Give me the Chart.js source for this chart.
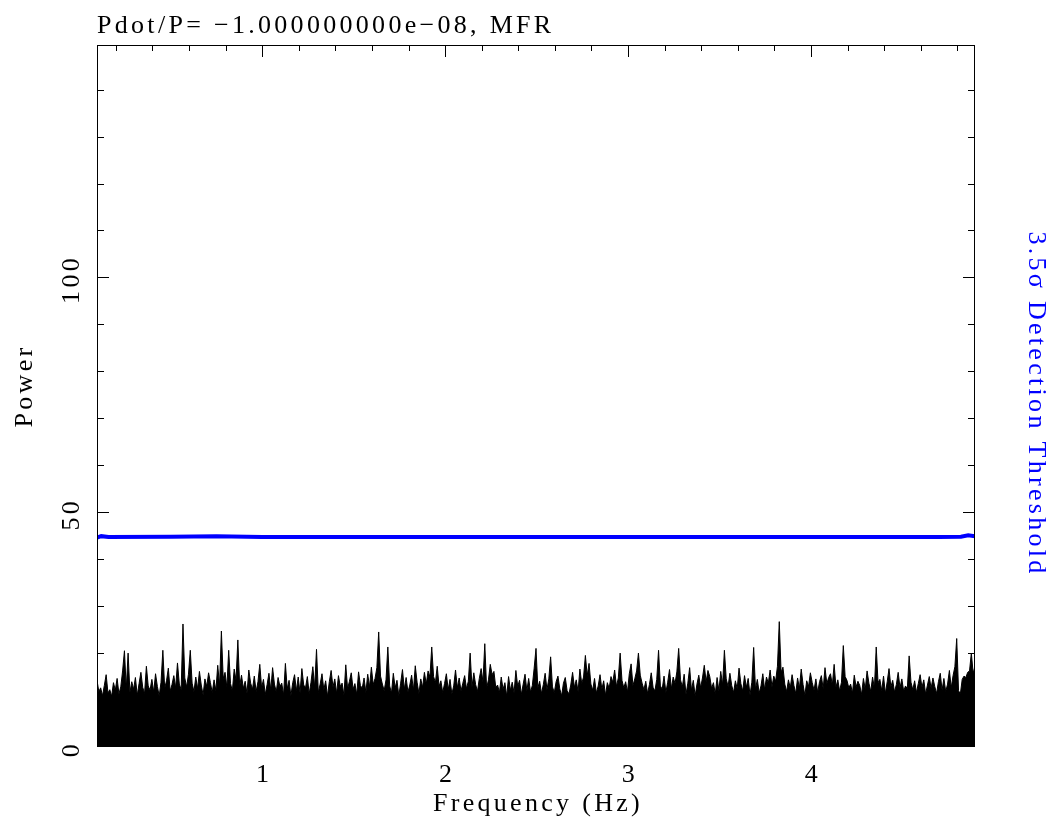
<!DOCTYPE html>
<html>
<head>
<meta charset="utf-8">
<title>Pdot/P power spectrum</title>
<script src="https://cdn.jsdelivr.net/npm/chart.js@4.4.1/dist/chart.umd.min.js"></script>
<style>
    html, body { margin: 0; padding: 0; background: #ffffff; }
    canvas { display: block; }
</style>
</head>
<body>
<canvas id="graficoEspectro" width="1051" height="819"></canvas>
<script>
// frequency grid of the spectrum (Hz)
const freqStart = 0.097;
const freqStep = 0.01;

// power per frequency bin
const power = [
    14.2, 11.8, 12.6, 10.9, 13.1, 15.4, 11.5, 12.2, 10.8, 13.7, 12.1, 14.6, 11.3, 12.8, 16.2, 20.5, 12.4, 20.0, 11.6, 13.9,
    12.3, 14.8, 11.0, 13.5, 15.9, 12.7, 11.4, 17.2, 13.0, 12.1, 14.4, 11.7, 15.6, 12.9, 10.9, 13.8, 20.6, 12.5, 14.1, 16.8,
    11.9, 13.3, 15.2, 12.6, 17.9, 13.4, 12.2, 26.2, 14.7, 12.8, 15.5, 20.6, 13.6, 11.8, 14.9, 12.4, 16.1, 13.2, 11.1, 14.5,
    12.9, 15.8, 13.7, 11.6, 14.3, 12.0, 17.4, 13.1, 24.7, 14.6, 15.9, 12.7, 20.6, 13.5, 11.9, 16.6, 14.2, 22.8, 13.0, 15.3,
    12.5, 14.0, 11.4, 16.4, 13.6, 12.3, 15.1, 11.8, 13.9, 17.6, 12.6, 14.4, 11.2, 13.3, 15.7, 12.1, 16.9, 13.4, 11.7, 14.8,
    12.9, 13.6, 11.1, 17.8, 12.4, 14.2, 10.9, 13.7, 15.4, 12.0, 14.9, 11.5, 16.7, 13.2, 12.6, 15.0, 11.3, 13.8, 17.1, 12.7,
    20.8, 11.6, 13.4, 15.6, 12.2, 14.1, 10.8, 13.9, 16.3, 12.8, 14.5, 11.4, 15.2, 12.9, 13.6, 11.0, 17.5, 12.4, 14.0, 15.8,
    12.3, 13.5, 11.2, 16.0, 13.1, 12.5, 14.7, 11.6, 15.5, 12.8, 17.0, 13.3, 14.6, 16.9, 24.5, 15.1, 13.4, 12.0, 14.3, 21.3,
    13.0, 11.5, 15.7, 12.6, 14.2, 10.9, 13.6, 16.5, 12.3, 14.8, 11.7, 13.2, 15.3, 12.1, 17.3, 13.8, 11.4, 14.5, 12.7, 15.9,
    13.4, 16.2, 14.9, 21.3, 15.0, 13.7, 17.2, 12.9, 14.1, 11.6, 13.5, 15.6, 12.2, 14.4, 11.3, 13.0, 16.4, 12.6, 14.7, 11.9,
    13.6, 15.2, 12.4, 14.0, 20.0, 12.8, 15.8, 13.3, 11.8, 14.6, 16.7, 13.9, 22.0, 12.5, 14.3, 17.6, 15.4, 16.1, 12.7, 13.2,
    11.6, 14.9, 12.3, 13.7, 10.8, 15.0, 12.1, 13.8, 11.5, 16.3, 12.9, 14.2, 11.2, 13.4, 15.5, 12.0, 14.6, 11.7, 13.1, 16.8,
    21.0, 12.6, 14.0, 11.4, 13.3, 15.7, 12.2, 14.5, 19.2, 12.8, 11.6, 13.9, 15.1, 12.4, 10.9, 13.6, 14.8, 12.0, 11.3, 13.2,
    15.9, 12.7, 14.3, 11.8, 16.6, 13.5, 14.9, 19.5, 15.2, 17.8, 13.4, 12.1, 14.6, 11.5, 13.0, 15.4, 12.3, 14.1, 11.0, 13.7,
    12.5, 15.0, 13.8, 16.4, 12.9, 14.7, 20.0, 14.2, 12.6, 13.9, 11.7, 15.6, 17.7, 13.1, 14.5, 16.2, 20.0, 15.3, 13.6, 12.2,
    14.0, 11.4, 13.3, 15.8, 12.7, 11.9, 14.4, 20.6, 13.0, 12.3, 15.1, 11.6, 13.8, 16.5, 12.4, 14.9, 13.5, 16.0, 21.0, 14.3,
    12.8, 15.5, 11.2, 13.6, 16.9, 12.1, 14.2, 10.9, 13.4, 15.3, 12.6, 14.7, 17.4, 13.9, 16.3, 15.0, 12.5, 13.7, 11.3, 14.8,
    12.0, 16.1, 13.2, 20.6, 14.5, 12.9, 15.7, 13.1, 11.6, 14.1, 12.4, 16.8, 13.5, 11.9, 15.2, 12.7, 14.6, 11.1, 13.8, 21.2,
    12.3, 14.4, 11.5, 13.0, 15.6, 12.2, 14.9, 13.6, 16.4, 12.8, 15.1, 14.0, 17.2, 26.7, 15.9, 17.0, 13.4, 11.8, 14.3, 12.6,
    15.4, 13.1, 11.4, 14.7, 12.5, 16.6, 13.3, 11.0, 14.1, 12.9, 15.8, 13.7, 12.1, 14.5, 11.6, 13.9, 15.2, 12.4, 16.9, 13.5,
    14.8, 15.6, 13.2, 17.6, 12.7, 14.3, 11.9, 13.8, 21.6, 15.0, 14.2, 12.6, 13.4, 11.5, 15.3, 12.8, 14.0, 13.1, 11.2, 14.6,
    12.3, 16.2, 13.6, 11.8, 14.9, 12.5, 21.3, 13.7, 14.4, 12.0, 15.1, 11.4, 13.9, 16.7, 12.8, 14.2, 11.7, 13.3, 15.9, 12.6,
    14.5, 11.9, 13.0, 12.4, 19.4, 13.8, 12.2, 14.1, 11.6, 13.5, 15.4, 12.7, 14.3, 11.3, 13.2, 15.0, 12.5, 14.7, 12.9, 11.4,
    13.9, 15.7, 12.1, 14.6, 11.8, 13.4, 16.3, 12.6, 15.2, 17.1, 23.1, 12.0, 11.3, 14.4, 15.1, 14.8, 15.9, 16.2, 20.0, 15.7,
    17.2
];

// 3.5 sigma detection threshold
const thresholdFreq = [0.097, 0.12, 0.16, 0.5, 0.75, 1.0, 4.7, 4.82, 4.86, 4.897];
const thresholdPower = [44.6, 44.9, 44.7, 44.8, 44.9, 44.7, 44.7, 44.8, 45.1, 44.9];

// axes
const xRange = [0.097, 4.897];
const yRange = [0, 149.5];
const xMajorTicks = [1, 2, 3, 4];
const yMajorTicks = [0, 50, 100];
const xMinorStep = 0.2;
const yMinorStep = 10;

const titulo = 'Pdot/P= \u22121.000000000e\u221208, MFR';
const tituloX = 'Frequency (Hz)';
const tituloY = 'Power';
const tituloDireita = '3.5\u03c3 Detection Threshold';

const fonte = '26px "Liberation Serif", "DejaVu Serif", serif';
const espacamento = '3.3px';
const azul = '#0000ff';

// PGPLOT-like box: frame, inward ticks on all four sides, labels
const eixosPgplot = {
    id: 'eixosPgplot',
    afterDraw(chart) {
        const ctx = chart.ctx;
        const a = chart.chartArea;
        const x = chart.scales.x;
        const y = chart.scales.y;
        ctx.save();
        ctx.strokeStyle = '#000000';
        ctx.lineWidth = 1;
        ctx.strokeRect(a.left + 0.5, a.top + 0.5, a.right - a.left - 1, a.bottom - a.top - 1);

        ctx.beginPath();
        const kx0 = Math.ceil(xRange[0] / xMinorStep - 1e-6);
        const kx1 = Math.floor(xRange[1] / xMinorStep + 1e-6);
        for (let k = kx0; k <= kx1; k++) {
            const v = k * xMinorStep;
            const major = Math.abs(v - Math.round(v)) < 1e-6;
            const len = major ? 12 : 6;
            const px = Math.round(x.getPixelForValue(v)) + 0.5;
            ctx.moveTo(px, a.bottom); ctx.lineTo(px, a.bottom - len);
            ctx.moveTo(px, a.top); ctx.lineTo(px, a.top + len);
        }
        const ky1 = Math.floor(yRange[1] / yMinorStep);
        for (let k = 1; k <= ky1; k++) {
            const v = k * yMinorStep;
            const len = (k % 5 === 0) ? 12 : 7;
            const py = Math.round(y.getPixelForValue(v)) + 0.5;
            ctx.moveTo(a.left, py); ctx.lineTo(a.left + len, py);
            ctx.moveTo(a.right, py); ctx.lineTo(a.right - len, py);
        }
        ctx.stroke();

        ctx.font = fonte;
        ctx.letterSpacing = espacamento;
        ctx.fillStyle = '#000000';
        ctx.textBaseline = 'alphabetic';

        // title
        ctx.textAlign = 'left';
        ctx.fillText(titulo, a.left, 33);

        // x tick labels and title
        ctx.textAlign = 'center';
        xMajorTicks.forEach(function (v) {
            ctx.fillText(String(v), x.getPixelForValue(v) + 2, 782);
        });
        ctx.fillText(tituloX, (a.left + a.right) / 2 + 2, 811);

        // y tick labels, rotated
        yMajorTicks.forEach(function (v) {
            ctx.save();
            ctx.translate(79, y.getPixelForValue(v) + 2);
            ctx.rotate(-Math.PI / 2);
            ctx.fillText(String(v), 0, 0);
            ctx.restore();
        });

        const meio = (a.top + a.bottom) / 2;
        ctx.save();
        ctx.translate(32, meio - 10);
        ctx.rotate(-Math.PI / 2);
        ctx.fillText(tituloY, 0, 0);
        ctx.restore();

        ctx.save();
        ctx.fillStyle = azul;
        ctx.translate(1029, meio + 8);
        ctx.rotate(Math.PI / 2);
        ctx.fillText(tituloDireita, 0, 0);
        ctx.restore();

        ctx.restore();
    }
};

document.addEventListener("DOMContentLoaded", function () {
    const pontosPower = power.map(function (p, i) {
        return { x: freqStart + i * freqStep, y: p };
    });
    const pontosThreshold = thresholdFreq.map(function (f, i) {
        return { x: f, y: thresholdPower[i] };
    });

    const ctxEspectro = document.getElementById('graficoEspectro');
    new Chart(ctxEspectro.getContext('2d'), {
        type: 'line',
        data: {
            datasets: [
                {
                    label: 'Power',
                    data: pontosPower,
                    borderColor: '#000000',
                    backgroundColor: '#000000',
                    borderWidth: 1,
                    pointRadius: 0,
                    tension: 0,
                    fill: 'origin'
                },
                {
                    label: tituloDireita,
                    data: pontosThreshold,
                    borderColor: azul,
                    borderWidth: 4,
                    pointRadius: 0,
                    tension: 0,
                    fill: false
                }
            ]
        },
        options: {
            responsive: false,
            animation: false,
            devicePixelRatio: 1,
            layout: {
                padding: { left: 97, right: 76, top: 45, bottom: 72 }
            },
            plugins: {
                legend: { display: false },
                tooltip: { enabled: false }
            },
            scales: {
                x: { type: 'linear', min: xRange[0], max: xRange[1], display: false },
                y: { type: 'linear', min: yRange[0], max: yRange[1], display: false }
            }
        },
        plugins: [eixosPgplot]
    });
});
</script>
</body>
</html>
